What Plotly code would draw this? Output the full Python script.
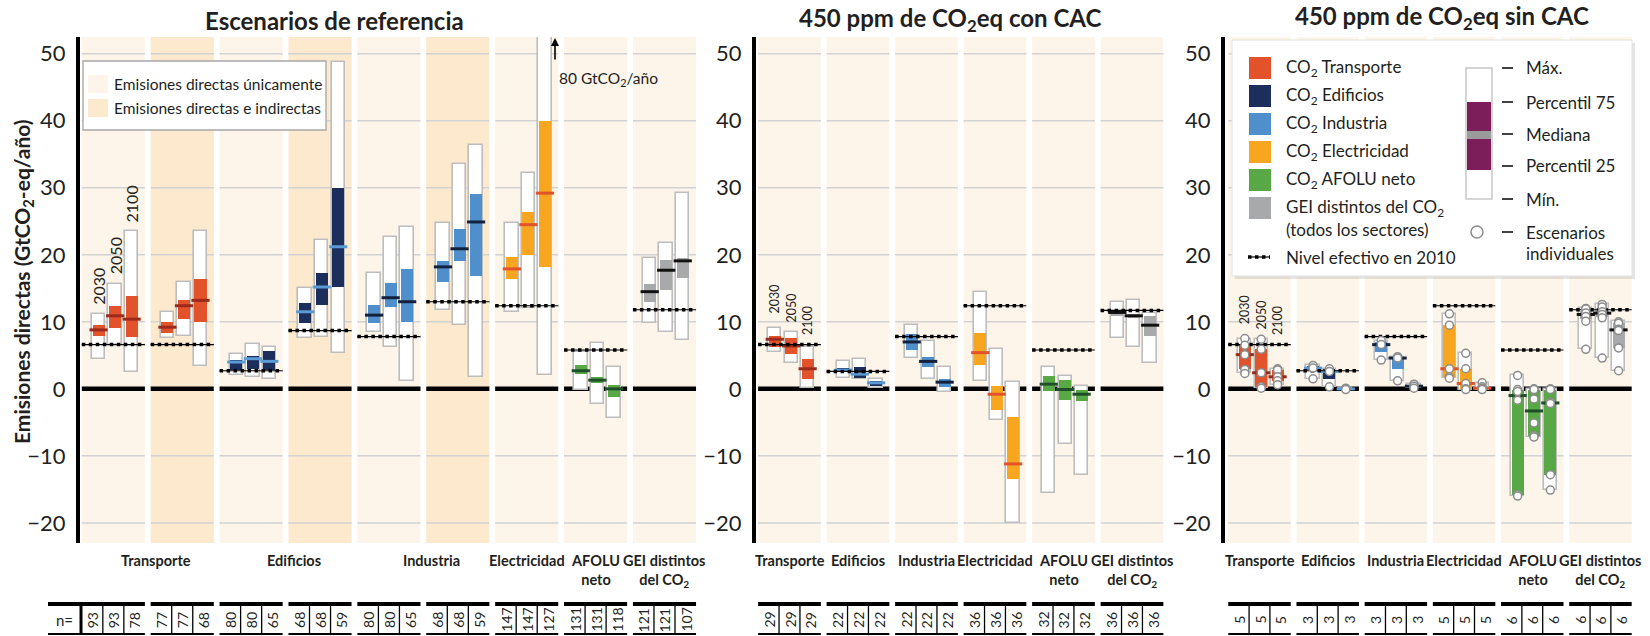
import plotly.graph_objects as go

# ---------------------------------------------------------------- data ----
years = ["2030", "2050", "2100"]

# Escenarios de referencia (9 columnas)
ref_sector = ["tra", "tra", "edi", "edi", "ind", "ind", "ele", "afo", "gei"]
ref_scope = ["dir", "ind", "dir", "ind", "dir", "ind", "dir", "dir", "dir"]
ref_max = [[11.2, 15.7, 23.5], [11.4, 15.9, 23.5], [5.2, 6.7, 6.3], [15.1, 22.2, 48.8],
           [17.3, 22.7, 24.2], [24.8, 33.6, 36.4], [24.7, 32.2, 80.0], [5.5, 6.8, 3.2],
           [19.5, 21.7, 29.2]]
ref_q75 = [[9.6, 12.4, 13.9], [10.0, 13.2, 16.4], [4.3, 4.9, 5.7], [12.8, 17.3, 30.0],
           [12.5, 15.8, 17.9], [19.1, 23.9, 29.1], [19.7, 26.4, 39.9], [3.6, 1.8, 0.6],
           [15.7, 19.3, 19.6]]
ref_med = [[8.8, 10.9, 10.4], [9.2, 12.4, 13.2], [4.0, 4.5, 4.1], [11.5, 15.2, 21.2],
           [11.0, 13.6, 13.0], [18.2, 20.9, 24.9], [17.9, 24.5, 29.2], [2.7, 1.3, 0.0],
           [14.5, 17.7, 19.1]]
ref_q25 = [[7.9, 9.1, 7.7], [8.4, 10.4, 10.0], [2.8, 3.0, 2.8], [9.8, 12.5, 15.2],
           [9.8, 12.2, 10.0], [16.0, 19.1, 16.9], [16.4, 20.0, 18.2], [2.2, 0.8, -1.2],
           [13.0, 14.7, 16.5]]
ref_min = [[4.5, 6.5, 2.5], [7.6, 7.9, 3.4], [2.0, 1.8, 1.5], [7.6, 7.8, 5.3],
           [8.5, 6.3, 1.2], [11.8, 9.6, 1.8], [11.4, 12.0, 2.1], [-0.1, -2.2, -4.3],
           [9.8, 8.5, 7.3]]
ref_level = [6.6, 6.6, 2.7, 8.7, 7.8, 13.0, 12.4, 5.8, 11.8]
ref_n = [[93, 93, 78], [77, 77, 68], [80, 80, 65], [68, 68, 59], [80, 80, 65],
         [68, 68, 59], [147, 147, 127], [131, 131, 118], [121, 121, 107]]
ref_cat = ["Transporte", "Edificios", "Industria", "Electricidad", "AFOLU<br>neto",
           "GEI distintos<br>del CO<sub>2</sub>"]
ref_cat_cols = [[0, 1], [2, 3], [4, 5], [6], [7], [8]]

# 450 ppm de CO2eq con CAC (6 columnas)
cac_sector = ["tra", "edi", "ind", "ele", "afo", "gei"]
cac_max = [[9.1, 8.5, 6.2], [4.2, 4.4, 1.4], [9.5, 7.1, 3.3], [14.5, 6.0, 1.0],
           [3.3, 1.9, 0.5], [12.9, 13.3, 11.3]]
cac_q75 = [[7.9, 7.6, 4.5], [3.1, 3.2, 1.2], [8.2, 4.7, 1.4], [8.4, 0.5, -4.2],
           [1.9, 1.3, -0.1], [11.8, 11.2, 10.8]]
cac_med = [[7.4, 6.4, 3.0], [2.8, 2.2, 0.9], [7.0, 4.1, 1.0], [5.4, -0.8, -11.2],
           [0.7, -0.1, -0.8], [11.4, 10.9, 9.5]]
cac_q25 = [[6.3, 5.2, 1.5], [2.5, 1.6, 0.4], [5.8, 3.2, 0.3], [3.6, -3.1, -13.5],
           [-0.3, -1.6, -1.8], [10.8, 10.5, 7.9]]
cac_min = [[5.5, 3.8, 0.1], [1.6, 1.5, 0.1], [4.6, 1.4, -0.5], [1.2, -4.7, -20.0],
           [-15.5, -8.2, -12.8], [7.6, 6.3, 3.9]]
cac_level = [6.6, 2.6, 7.8, 12.4, 5.8, 11.7]
cac_n = [[29, 29, 29], [22, 22, 22], [22, 22, 22], [36, 36, 36], [32, 32, 32], [36, 36, 36]]

# 450 ppm de CO2eq sin CAC (6 columnas, con escenarios individuales)
sin_sector = ["tra", "edi", "ind", "ele", "afo", "gei"]
sin_max = [[7.5, 7.4, 3.0], [3.5, 3.0, 0.1], [7.2, 4.8, 0.7], [11.2, 5.3, 0.9],
           [2.0, 0.0, 0.0], [12.0, 12.6, 10.1]]
sin_q75 = [[6.5, 5.9, 2.8], [3.4, 2.9, 0.05], [7.0, 4.7, 0.55], [9.5, 3.0, 0.3],
           [-0.2, -0.1, -0.1], [11.6, 12.0, 9.9]]
sin_med = [[5.1, 2.4, 1.8], [3.1, 2.6, 0.0], [6.6, 4.6, 0.4], [3.0, 0.8, 0.1],
           [-1.0, -3.3, -2.1], [11.1, 11.3, 8.8]]
sin_q25 = [[2.9, 0.3, 1.2], [2.8, 1.5, -0.05], [5.5, 2.9, 0.25], [1.8, 0.0, 0.0],
           [-15.8, -7.1, -12.8], [10.4, 10.7, 6.1]]
sin_min = [[2.3, 0.1, 0.6], [1.5, 0.3, -0.1], [4.3, 1.2, 0.1], [1.6, -0.1, -0.1],
           [-16.0, -7.2, -15.1], [5.9, 4.6, 2.7]]
sin_scen = [
    [[7.5, 6.5, 5.1, 2.9, 2.3], [7.4, 5.9, 2.4, 0.3, 0.1], [3.0, 2.8, 1.8, 1.2, 0.6]],
    [[3.5, 3.1, 1.5], [3.0, 2.6, 0.3], [0.1, 0.0, -0.1]],
    [[7.2, 6.6, 4.3], [4.8, 4.6, 1.2], [0.7, 0.4, 0.1]],
    [[11.2, 9.5, 3.0, 1.8, 1.6], [5.3, 3.0, 0.8, 0.0, -0.1], [0.9, 0.3, 0.1, 0.0, -0.1]],
    [[2.0, -0.1, -0.4, -1.7, -15.8, -16.0], [0.0, -0.1, -1.5, -5.1, -7.0, -7.2],
     [0.0, -0.1, -2.0, -2.2, -12.8, -15.1]],
    [[12.0, 11.9, 11.3, 10.8, 10.1, 5.9], [12.6, 12.2, 11.5, 11.1, 10.6, 4.6],
     [10.0, 9.8, 8.9, 8.7, 6.1, 2.7]],
]
sin_level = [6.6, 2.7, 7.8, 12.4, 5.8, 11.8]
sin_n = [[5, 5, 5], [3, 3, 3], [3, 3, 3], [5, 5, 5], [6, 6, 6], [6, 6, 6]]

panel_cat = ["Transporte", "Edificios", "Industria", "Electricidad", "AFOLU<br>neto",
             "GEI distintos<br>del CO<sub>2</sub>"]

y_ticks = [-20, -10, 0, 10, 20, 30, 40, 50]

# ------------------------------------------------------------- styling ----
W, H = 1650, 636
TOP, BOTTOM = 37, 543
FONT = "Lato"
TXT = "#231F20"

FILL = {"tra": "#E2522B", "edi": "#1B2E5C", "ind": "#4F8FCC",
        "ele": "#F8A51F", "afo": "#58A846", "gei": "#A8A9AB"}
MEDIAN = {"tra": "#9C2A1C", "edi": "#5B9BD5", "ind": "#14213D",
          "ele": "#E2522B", "afo": "#1F4F2A", "gei": "#111111"}
BG = {"dir": "#FEF5EA", "ind": "#FDE9CE"}
BOX_LINE = "#BDBDBD"

OFFSETS = [-0.215, 0.025, 0.265]   # box centres inside a column
BOX_W = 0.195
COL_HALF = 0.458
CAT_SIZE = 14.5
KEY_SIZE = 17


def px_x(p):
    return p / W


def px_y(p):
    return (BOTTOM - p) / (BOTTOM - TOP)


fig = go.Figure()
shapes = []
annotations = []


def ann(text, x, y, xref="paper", yref="paper", size=15, xanchor="center",
        yanchor="middle", **kw):
    annotations.append(dict(text=text, x=x, y=y, xref=xref, yref=yref, showarrow=False,
                            xanchor=xanchor, yanchor=yanchor,
                            font=dict(size=size, color=TXT, family=FONT), **kw))


def add_panel(k, sector, scope, vmin, q25, med, q75, vmax, level, n, scen=None):
    xa = "x" if k == 0 else f"x{k + 1}"
    ya = "y" if k == 0 else f"y{k + 1}"
    ncol = len(sector)

    # column backgrounds, grid and zero line
    for g in range(ncol):
        shapes.append(dict(type="rect", xref=xa, yref=f"{ya} domain", x0=g - COL_HALF,
                           x1=g + COL_HALF, y0=0, y1=1, fillcolor=BG[scope[g]],
                           line=dict(width=0), layer="below"))
        for t in y_ticks:
            if t == 0:
                continue
            shapes.append(dict(type="line", xref=xa, yref=ya, x0=g - COL_HALF,
                               x1=g + COL_HALF, y0=t, y1=t,
                               line=dict(color="#D2D2D2", width=1.5), layer="below"))
        shapes.append(dict(type="line", xref=xa, yref=ya, x0=g - COL_HALF, x1=g + COL_HALF,
                           y0=0, y1=0, line=dict(color="black", width=4.5), layer="below"))

    xs, lo, hi, q_lo, q_hi, md, fills, mcols = [], [], [], [], [], [], [], []
    for g in range(ncol):
        for j in range(3):
            xs.append(g + OFFSETS[j])
            lo.append(vmin[g][j])
            hi.append(vmax[g][j])
            q_lo.append(q25[g][j])
            q_hi.append(q75[g][j])
            md.append(med[g][j])
            fills.append(FILL[sector[g]])
            mcols.append(MEDIAN[sector[g]])

    fig.add_trace(go.Bar(x=xs, y=[h - l for h, l in zip(hi, lo)], base=lo, width=BOX_W,
                         marker=dict(color="white", line=dict(color=BOX_LINE, width=1.6)),
                         xaxis=xa, yaxis=ya, showlegend=False, hoverinfo="skip"))
    fig.add_trace(go.Bar(x=xs, y=[h - l for h, l in zip(q_hi, q_lo)], base=q_lo,
                         width=BOX_W - 0.02, marker=dict(color=fills, line=dict(width=0)),
                         xaxis=xa, yaxis=ya, showlegend=False, hoverinfo="skip"))
    fig.add_trace(go.Scatter(x=xs, y=md, mode="markers",
                             marker=dict(symbol="line-ew", size=13,
                                         line=dict(color=mcols, width=3)),
                             xaxis=xa, yaxis=ya, showlegend=False, hoverinfo="skip"))

    # effective 2010 level
    lx, ly = [], []
    for g in range(ncol):
        lx += [g - COL_HALF, g + COL_HALF, None]
        ly += [level[g], level[g], None]
    fig.add_trace(go.Scatter(x=lx, y=ly, mode="lines", line=dict(color="black", width=1.2),
                             xaxis=xa, yaxis=ya, showlegend=False, hoverinfo="skip"))
    fig.add_trace(go.Scatter(x=lx, y=ly, mode="lines",
                             line=dict(color="black", width=3.5, dash="dot"),
                             xaxis=xa, yaxis=ya, showlegend=False, hoverinfo="skip"))

    if scen is not None:
        sx, sy = [], []
        for g in range(ncol):
            for j in range(3):
                for v in scen[g][j]:
                    sx.append(g + OFFSETS[j])
                    sy.append(v)
        fig.add_trace(go.Scatter(x=sx, y=sy, mode="markers",
                                 marker=dict(symbol="circle", size=8, color="white",
                                             line=dict(color="#8C8C8C", width=1.5)),
                                 xaxis=xa, yaxis=ya, showlegend=False, hoverinfo="skip"))

    # n= table
    for g in range(ncol):
        x0, x1 = g - COL_HALF, g + COL_HALF
        shapes.append(dict(type="line", xref=xa, yref="paper", x0=x0, x1=x1,
                           y0=px_y(604), y1=px_y(604), line=dict(color="black", width=4)))
        shapes.append(dict(type="line", xref=xa, yref="paper", x0=x0, x1=x1,
                           y0=px_y(634), y1=px_y(634), line=dict(color="black", width=2)))
        cw = (x1 - x0) / 3
        for j in range(1, 3):
            shapes.append(dict(type="line", xref=xa, yref="paper", x0=x0 + j * cw,
                               x1=x0 + j * cw, y0=px_y(606), y1=px_y(634),
                               line=dict(color="black", width=1.3)))
        for j in range(3):
            ann(str(n[g][j]), x0 + (j + 0.5) * cw, px_y(620), xref=xa, size=14,
                textangle=-90)


add_panel(0, ref_sector, ref_scope, ref_min, ref_q25, ref_med, ref_q75, ref_max,
          ref_level, ref_n)
add_panel(1, cac_sector, ["dir"] * 6, cac_min, cac_q25, cac_med, cac_q75, cac_max,
          cac_level, cac_n)
add_panel(2, sin_sector, ["dir"] * 6, sin_min, sin_q25, sin_med, sin_q75, sin_max,
          sin_level, sin_n, scen=sin_scen)

# year labels over the first column of each panel
for j, yr in enumerate(years):
    ann(yr, OFFSETS[j], ref_max[0][j], xref="x", yref="y", size=16, yanchor="bottom",
        textangle=-90, yshift=7)
for j, (yr, yy) in enumerate(zip(years, [11.0, 9.55, 7.75])):
    ann(yr, OFFSETS[j], yy, xref="x2", yref="y2", size=12.5, yanchor="bottom",
        textangle=-90)
for j, (yr, yy) in enumerate(zip(years, [9.4, 8.5, 7.75])):
    ann(yr, OFFSETS[j], yy, xref="x3", yref="y3", size=12.5, yanchor="bottom",
        textangle=-90)

# category labels
for lab, cols in zip(ref_cat, ref_cat_cols):
    cx = sum(cols) / len(cols) + (0.12 if len(cols) > 1 else 0)
    ann(f"<b>{lab}</b>", cx, px_y(550), xref="x", size=CAT_SIZE, yanchor="top")
for xa in ["x2", "x3"]:
    for g, lab in enumerate(panel_cat):
        ann(f"<b>{lab}</b>", g, px_y(550), xref=xa, size=CAT_SIZE, yanchor="top")

# n= cell on the left
ann("n=", px_x(64), px_y(620), size=15)
shapes.append(dict(type="line", xref="paper", yref="paper", x0=px_x(48), x1=px_x(82),
                   y0=px_y(604), y1=px_y(604), line=dict(color="black", width=4)))
shapes.append(dict(type="line", xref="paper", yref="paper", x0=px_x(48), x1=px_x(82),
                   y0=px_y(634), y1=px_y(634), line=dict(color="black", width=2)))
shapes.append(dict(type="line", xref="paper", yref="paper", x0=px_x(81), x1=px_x(81),
                   y0=px_y(604), y1=px_y(634), line=dict(color="black", width=3)))

# panel titles
ann("<b>Escenarios de referencia</b>", px_x(334), px_y(21), size=24)
ann("<b>450 ppm de CO<sub>2</sub>eq con CAC</b>", px_x(950), px_y(20), size=24)
ann("<b>450 ppm de CO<sub>2</sub>eq sin CAC</b>", px_x(1442), px_y(18), size=24)

# y axis title
ann("<b>Emisiones directas (GtCO<sub>2</sub>-eq/año)</b>", px_x(23), px_y(282), size=21,
    textangle=-90)

# off-scale arrow for electricity 2100
annotations.append(dict(x=px_x(555), y=px_y(38), xref="paper", yref="paper", text="",
                        showarrow=True, ax=0, ay=23, arrowhead=2, arrowsize=1,
                        arrowwidth=1.6, arrowcolor="black"))
ann("80 GtCO<sub>2</sub>/año", px_x(557), px_y(79), size=15.5, xanchor="left")

# legend: direct / indirect shading
shapes.append(dict(type="rect", xref="paper", yref="paper", x0=px_x(83), x1=px_x(326),
                   y0=px_y(130), y1=px_y(61), fillcolor="white",
                   line=dict(color="#A6A6A6", width=1.3)))
for (lab, key, cy) in [("Emisiones directas únicamente", "dir", 84),
                       ("Emisiones directas e indirectas", "ind", 108)]:
    shapes.append(dict(type="rect", xref="paper", yref="paper", x0=px_x(88), x1=px_x(108),
                       y0=px_y(cy + 9), y1=px_y(cy - 9), fillcolor=BG[key],
                       line=dict(width=0)))
    ann(lab, px_x(112), px_y(cy), size=15.5, xanchor="left")

# legend: sectors and box key
shapes.append(dict(type="rect", xref="paper", yref="paper", x0=px_x(1235), x1=px_x(1635),
                   y0=px_y(279), y1=px_y(43), fillcolor="rgba(0,0,0,0.10)",
                   line=dict(width=0)))
shapes.append(dict(type="rect", xref="paper", yref="paper", x0=px_x(1232), x1=px_x(1632),
                   y0=px_y(276), y1=px_y(40), fillcolor="white",
                   line=dict(color="#E2E2E2", width=1)))
legend_rows = [("tra", "CO<sub>2</sub> Transporte", 68),
               ("edi", "CO<sub>2</sub> Edificios", 96),
               ("ind", "CO<sub>2</sub> Industria", 124),
               ("ele", "CO<sub>2</sub> Electricidad", 152),
               ("afo", "CO<sub>2</sub> AFOLU neto", 180),
               ("gei", "GEI distintos del CO<sub>2</sub>", 208)]
for key, lab, cy in legend_rows:
    shapes.append(dict(type="rect", xref="paper", yref="paper", x0=px_x(1249), x1=px_x(1271),
                       y0=px_y(cy + 11), y1=px_y(cy - 11), fillcolor=FILL[key],
                       line=dict(width=0)))
    ann(lab, px_x(1284), px_y(cy), size=KEY_SIZE, xanchor="left")
ann("(todos los sectores)", px_x(1284), px_y(229), size=KEY_SIZE, xanchor="left")
ann("Nivel efectivo en 2010", px_x(1284), px_y(257), size=KEY_SIZE, xanchor="left")
shapes.append(dict(type="line", xref="paper", yref="paper", x0=px_x(1248), x1=px_x(1270),
                   y0=px_y(257), y1=px_y(257), line=dict(color="black", width=1.2)))
shapes.append(dict(type="line", xref="paper", yref="paper", x0=px_x(1248), x1=px_x(1270),
                   y0=px_y(257), y1=px_y(257), line=dict(color="black", width=3.5, dash="dot")))

shapes.append(dict(type="rect", xref="paper", yref="paper", x0=px_x(1466), x1=px_x(1492),
                   y0=px_y(199), y1=px_y(68), fillcolor="white",
                   line=dict(color="#C8C8C8", width=1.5)))
shapes.append(dict(type="rect", xref="paper", yref="paper", x0=px_x(1467), x1=px_x(1491),
                   y0=px_y(170), y1=px_y(102), fillcolor="#7B1E5A", line=dict(width=0)))
shapes.append(dict(type="rect", xref="paper", yref="paper", x0=px_x(1467), x1=px_x(1491),
                   y0=px_y(139), y1=px_y(131), fillcolor="#9B9B9B", line=dict(width=0)))
for lab, cy in [("Máx.", 68), ("Percentil 75", 102), ("Mediana", 134),
                ("Percentil 25", 166), ("Mín.", 199), ("Escenarios", 232)]:
    shapes.append(dict(type="line", xref="paper", yref="paper", x0=px_x(1502), x1=px_x(1513),
                       y0=px_y(cy), y1=px_y(cy), line=dict(color="black", width=1.5)))
    ann(lab, px_x(1524), px_y(cy), size=KEY_SIZE, xanchor="left")
ann("individuales", px_x(1524), px_y(253), size=KEY_SIZE, xanchor="left")
shapes.append(dict(type="circle", xref="paper", yref="paper", x0=px_x(1471), x1=px_x(1483),
                   y0=px_y(238), y1=px_y(226), fillcolor="white",
                   line=dict(color="#8C8C8C", width=1.5)))

# ---------------------------------------------------------------- axes ----
domains = [(80, 697), (756, 1165), (1225, 1633)]
ranges = [(-0.484, 8.472), (-0.489, 5.482), (-0.506, 5.477)]
layout_axes = {}
for k, ((d0, d1), (r0, r1)) in enumerate(zip(domains, ranges)):
    xname = "xaxis" if k == 0 else f"xaxis{k + 1}"
    yname = "yaxis" if k == 0 else f"yaxis{k + 1}"
    xa = "x" if k == 0 else f"x{k + 1}"
    ya = "y" if k == 0 else f"y{k + 1}"
    layout_axes[xname] = dict(domain=[px_x(d0), px_x(d1)], range=[r0, r1], visible=False,
                              anchor=ya, fixedrange=True)
    layout_axes[yname] = dict(domain=[0, 1], range=[-23, 52.5], anchor=xa,
                              tickvals=y_ticks, showgrid=False, zeroline=False,
                              showline=True, linecolor="black", linewidth=4, ticks="",
                              ticklabelstandoff=6, tickfont=dict(size=22, color=TXT),
                              fixedrange=True)

fig.update_layout(
    width=W, height=H, autosize=False,
    margin=dict(l=0, r=0, t=TOP, b=H - BOTTOM, pad=0),
    paper_bgcolor="white", plot_bgcolor="white",
    barmode="overlay", bargap=0,
    font=dict(family=FONT, color=TXT),
    shapes=shapes, annotations=annotations,
    showlegend=False,
    **layout_axes,
)

fig.write_html("out.html", config={"displayModeBar": False})
